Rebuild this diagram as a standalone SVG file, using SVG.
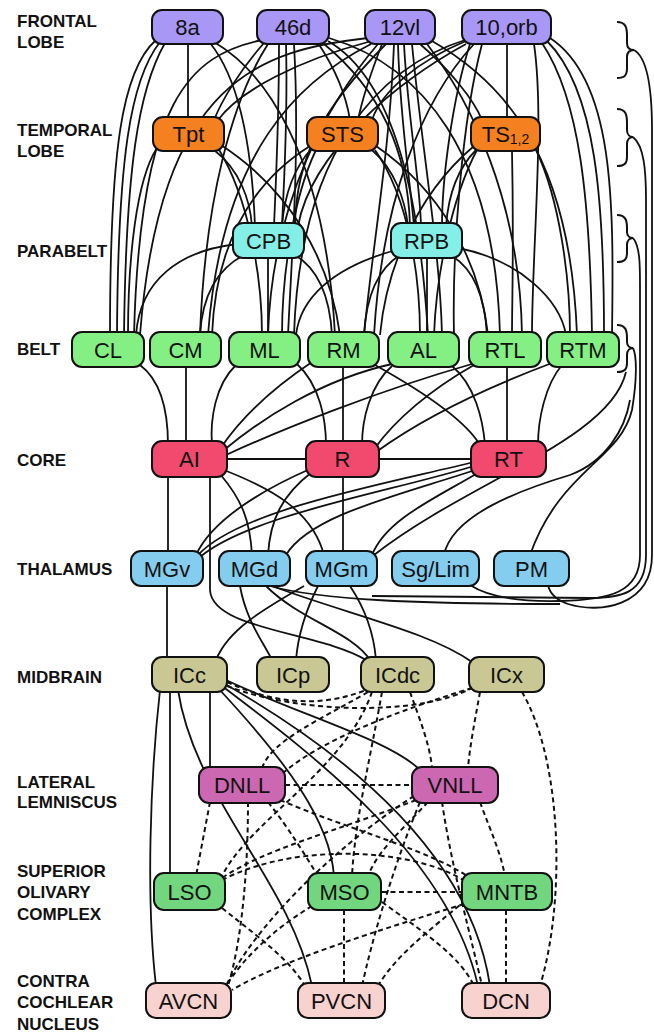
<svg xmlns="http://www.w3.org/2000/svg" width="654" height="1033" viewBox="0 0 654 1033">
<style>
  .c path { fill: none; stroke: #111; stroke-width: 1.8; }
  .c path.d { stroke-dasharray: 5 3.5; stroke-width: 2; }
  .br path { fill: none; stroke: #111; stroke-width: 2; }
  .n rect { stroke: #111; stroke-width: 2; }
  .n text { font-family: "Liberation Sans", Arial, sans-serif; font-size: 22px; text-anchor: middle; fill: #111; }
  .lbl text { font-family: "Liberation Sans", Arial, sans-serif; font-size: 17px; font-weight: bold; fill: #111; }
  .fr rect { fill: #a897f5; }
  .te rect { fill: #f5801f; }
  .pb rect { fill: #84efe6; }
  .be rect { fill: #84f084; }
  .co rect { fill: #f24a6e; }
  .th rect { fill: #84cdee; }
  .mb rect { fill: #c9c894; }
  .ll rect { fill: #cc68b2; }
  .so rect { fill: #72d67e; }
  .cn rect { fill: #f8d2ce; }
</style>

<!-- level labels -->
<g class="lbl">
  <text x="17" y="27">FRONTAL</text><text x="17" y="48">LOBE</text>
  <text x="17" y="136">TEMPORAL</text><text x="17" y="157">LOBE</text>
  <text x="17" y="257">PARABELT</text>
  <text x="17" y="355">BELT</text>
  <text x="17" y="466">CORE</text>
  <text x="17" y="575">THALAMUS</text>
  <text x="17" y="683">MIDBRAIN</text>
  <text x="17" y="788">LATERAL</text><text x="17" y="808">LEMNISCUS</text>
  <text x="17" y="877">SUPERIOR</text><text x="17" y="898">OLIVARY</text><text x="17" y="920">COMPLEX</text>
  <text x="17" y="987">CONTRA</text><text x="17" y="1008">COCHLEAR</text><text x="17" y="1030">NUCLEUS</text>
</g>

<!-- braces on the right -->
<g class="br">
  <path d="M617,22 C626,22 627,28 627,36 L627,43 C627,48 630,50 634,50 C630,50 627,52 627,57 L627,68 C627,75 625,78 617,78"/>
  <path d="M617,109 C626,109 627,115 627,123 L627,130 C627,135 630,137 633,137 C630,137 627,139 627,144 L627,157 C627,163 625,166 617,166"/>
  <path d="M617,215 C626,215 627,221 627,228 L627,232 C627,236 630,238 633,238 C630,238 627,240 627,245 L627,253 C627,259 625,262 617,262"/>
  <path d="M617,325 C626,325 627,331 627,338 L627,342 C627,346 630,348 633,348 C630,348 627,350 627,355 L627,363 C627,369 625,372 617,372"/>
</g>

<!-- connectors -->
<g class="c">
  <!-- frontal 8a -->
  <path d="M188,42 V120"/>
  <path d="M156,40 C122,70 110,150 110,335"/>
  <path d="M160,42 C130,80 118,160 117,335"/>
  <path d="M165,43 C138,90 126,170 124,335"/>
  <path d="M214,42 C262,70 325,150 335,335"/>
  <path d="M210,43 C240,80 252,150 255,226"/>
  <!-- frontal 46d -->
  <path d="M262,40 C190,55 140,100 134,335"/>
  <path d="M264,43 C240,70 222,100 214,120"/>
  <path d="M268,44 C232,100 205,200 200,335"/>
  <path d="M279,44 C279,120 276,180 274,226"/>
  <path d="M286,44 C288,120 284,180 282,226"/>
  <path d="M294,44 C300,150 292,250 288,335"/>
  <path d="M318,43 C336,70 346,95 350,120"/>
  <path d="M324,44 C380,90 408,150 410,226"/>
  <path d="M328,41 C395,80 420,200 428,335"/>
  <path d="M329,38 C420,65 495,150 500,335"/>
  <!-- frontal 12vl -->
  <path d="M368,38 C260,50 160,80 140,335"/>
  <path d="M368,42 C300,60 240,90 218,120"/>
  <path d="M371,44 C300,80 222,150 208,335"/>
  <path d="M378,44 C330,100 272,200 268,335"/>
  <path d="M382,44 C372,70 362,100 358,120"/>
  <path d="M386,44 C320,110 296,160 295,226"/>
  <path d="M398,44 C400,120 410,180 414,226"/>
  <path d="M404,44 C408,120 420,180 421,226"/>
  <path d="M394,44 C390,150 372,250 364,335"/>
  <path d="M412,44 C422,150 440,250 442,335"/>
  <path d="M420,44 C450,70 474,100 482,120"/>
  <path d="M427,44 C470,100 520,200 522,335"/>
  <path d="M432,41 C500,80 570,150 577,335"/>
  <!-- frontal 10,orb -->
  <path d="M466,41 C420,60 382,90 372,120"/>
  <path d="M466,44 C400,80 312,150 298,226"/>
  <path d="M470,44 C452,100 442,180 442,226"/>
  <path d="M468,39 C380,66 300,150 294,335"/>
  <path d="M474,44 C422,100 382,200 374,335"/>
  <path d="M482,44 C462,120 452,250 454,335"/>
  <path d="M507,44 V120"/>
  <path d="M534,44 C545,120 532,250 532,335"/>
  <path d="M542,43 C580,100 590,200 592,335"/>
  <path d="M547,41 C596,90 604,200 604,335"/>
  <path d="M550,38 C614,80 614,200 612,335"/>
  <!-- temporal -->
  <path d="M157,148 C136,180 128,260 128,335"/>
  <path d="M214,150 C240,170 250,200 252,226"/>
  <path d="M218,148 C250,200 262,280 262,335"/>
  <path d="M221,145 C290,190 330,260 340,335"/>
  <path d="M312,148 C292,170 284,200 282,226"/>
  <path d="M310,146 C240,190 215,260 212,335"/>
  <path d="M316,150 C292,200 282,280 282,335"/>
  <path d="M372,150 C395,170 405,200 408,226"/>
  <path d="M375,150 C410,200 420,280 420,335"/>
  <path d="M376,146 C440,190 480,260 488,335"/>
  <path d="M476,150 C456,170 448,200 446,226"/>
  <path d="M478,148 C450,200 436,280 434,335"/>
  <path d="M474,146 C410,200 385,280 380,335"/>
  <path d="M512,151 C514,250 512,300 512,335"/>
  <path d="M536,150 C560,200 570,280 570,335"/>
  <!-- parabelt to belt -->
  <path d="M238,244 C180,250 140,280 136,335"/>
  <path d="M244,255 C215,270 202,300 200,335"/>
  <path d="M268,256 V335"/>
  <path d="M295,255 C320,270 330,300 332,335"/>
  <path d="M396,250 C330,268 300,300 296,335"/>
  <path d="M400,255 C376,270 366,300 364,335"/>
  <path d="M427,256 V335"/>
  <path d="M452,256 C475,270 485,300 487,335"/>
  <path d="M458,248 C520,260 560,300 566,335"/>
  <!-- belt to core -->
  <path d="M140,365 C160,380 168,410 168,445"/>
  <path d="M186,365 V445"/>
  <path d="M236,365 C215,385 210,420 212,445"/>
  <path d="M312,362 C270,390 240,420 222,446"/>
  <path d="M392,364 C320,380 260,420 224,450"/>
  <path d="M472,364 C380,390 280,430 226,455"/>
  <path d="M297,364 C320,385 326,420 326,445"/>
  <path d="M343,365 V445"/>
  <path d="M392,366 C370,385 362,420 362,445"/>
  <path d="M474,365 C430,390 395,420 375,448"/>
  <path d="M552,363 C480,390 420,420 376,452"/>
  <path d="M375,365 C420,390 465,420 480,445"/>
  <path d="M452,366 C475,385 483,420 485,445"/>
  <path d="M507,365 V445"/>
  <path d="M562,365 C545,385 538,420 538,445"/>
  <path d="M225,459 H310"/>
  <path d="M378,459 H475"/>
  <!-- core to thalamus -->
  <path d="M168,476 V555"/>
  <path d="M210,476 V590 C212,630 320,632 366,660"/>
  <path d="M220,474 C242,500 250,520 252,555"/>
  <path d="M224,470 C270,488 312,510 324,555"/>
  <path d="M343,476 V555"/>
  <path d="M312,472 C282,495 270,520 268,555"/>
  <path d="M310,469 C262,490 212,520 196,555"/>
  <path d="M474,462 C380,485 240,510 198,555"/>
  <path d="M474,466 C390,492 250,515 200,557"/>
  <path d="M475,470 C400,495 310,515 286,555"/>
  <path d="M476,474 C432,500 386,520 372,555"/>
  <!-- long pathways along the right edge -->
  <path d="M634,50 C648,58 652,90 652,130 L652,555 C652,606 600,614 568,604 C556,600 550,594 548,585"/>
  <path d="M633,137 C644,146 646,170 646,200 L646,555 C646,594 620,598 590,598 L372,596"/>
  <path d="M633,238 C640,246 640,265 640,285 L640,555 C640,592 610,600 560,601 C520,602 490,598 470,585"/>
  <path d="M633,348 C637,356 637,380 632,410 C620,460 560,470 530,555"/>
  <path d="M444,555 C452,515 520,490 570,475 C605,462 625,430 630,400"/>
  <path d="M626,372 C610,440 470,480 374,555"/>
  <path d="M270,586 C320,600 420,604 560,604"/>
  <!-- thalamus to midbrain -->
  <path d="M167,584 V660"/>
  <path d="M304,586 C262,610 228,630 216,660"/>
  <path d="M240,586 C246,620 262,640 272,660"/>
  <path d="M318,586 C306,610 298,635 296,660"/>
  <path d="M350,586 C366,610 374,635 376,660"/>
  <path d="M266,586 C300,620 352,632 370,660"/>
  <path d="M272,586 C350,615 430,632 472,662"/>
  <!-- inferior colliculus, central nucleus, descending -->
  <path d="M160,690 C150,780 146,900 156,986"/>
  <path d="M170,690 V876"/>
  <path d="M210,690 V770"/>
  <path d="M178,690 C195,800 290,880 312,986"/>
  <path d="M218,688 C285,760 330,820 334,876"/>
  <path d="M222,686 C320,760 450,860 478,986"/>
  <path d="M225,684 C340,750 470,850 490,986"/>
  <path d="M226,680 C300,715 390,740 420,770"/>
  <!-- brainstem (dashed) -->
  <path class="d" d="M227,682 Q300,716 366,690"/>
  <path class="d" d="M227,686 C300,714 420,716 472,688"/>
  <path class="d" d="M368,692 C320,720 272,740 262,768"/>
  <path class="d" d="M472,688 C400,710 320,740 282,774"/>
  <path class="d" d="M410,692 C420,720 430,745 432,768"/>
  <path class="d" d="M480,692 C475,720 470,745 468,768"/>
  <path class="d" d="M522,692 C562,760 566,900 540,986"/>
  <path class="d" d="M372,692 C345,770 250,820 222,876"/>
  <path class="d" d="M382,692 C370,760 355,820 352,876"/>
  <path class="d" d="M285,785 H413"/>
  <path class="d" d="M210,802 L196,876"/>
  <path class="d" d="M248,802 C248,870 242,940 228,986"/>
  <path class="d" d="M268,802 C290,830 305,855 318,876"/>
  <path class="d" d="M280,800 C350,830 430,850 470,878"/>
  <path class="d" d="M416,800 C340,830 262,850 222,878"/>
  <path class="d" d="M428,802 C402,830 378,850 368,876"/>
  <path class="d" d="M480,802 C490,830 500,850 505,876"/>
  <path class="d" d="M442,802 C452,870 472,940 482,986"/>
  <path class="d" d="M420,802 C392,870 372,940 362,986"/>
  <path class="d" d="M414,796 C330,850 252,930 226,986"/>
  <path class="d" d="M222,880 C300,840 420,850 466,882"/>
  <path class="d" d="M382,892 H464"/>
  <path class="d" d="M222,908 C262,940 290,960 305,986"/>
  <path class="d" d="M344,910 V986"/>
  <path class="d" d="M312,906 C272,930 242,960 226,986"/>
  <path class="d" d="M464,904 C380,930 282,960 232,990"/>
  <path class="d" d="M466,900 C430,930 396,955 378,986"/>
  <path class="d" d="M506,910 V986"/>
  <path class="d" d="M382,902 C420,930 460,955 474,986"/>
</g>

<!-- frontal lobe -->
<g id="n-8a" class="n fr"><rect x="152" y="10" width="71" height="34" rx="10"/><text x="187.5" y="35">8a</text></g>
<g id="n-46d" class="n fr"><rect x="257" y="10" width="72" height="34" rx="10"/><text x="293" y="35">46d</text></g>
<g id="n-12vl" class="n fr"><rect x="365" y="10" width="70" height="34" rx="10"/><text x="400" y="35">12vl</text></g>
<g id="n-10orb" class="n fr"><rect x="462" y="10" width="89" height="34" rx="10"/><text x="506.5" y="35">10,orb</text></g>
<!-- temporal lobe -->
<g id="n-Tpt" class="n te"><rect x="153" y="117" width="71" height="34" rx="10"/><text x="188.5" y="142">Tpt</text></g>
<g id="n-STS" class="n te"><rect x="307" y="117" width="71" height="34" rx="10"/><text x="342.5" y="142">STS</text></g>
<g id="n-TS" class="n te"><rect x="471" y="117" width="69" height="34" rx="10"/><text x="505.5" y="142">TS<tspan font-size="14" dy="2">1,2</tspan></text></g>
<!-- parabelt -->
<g id="n-CPB" class="n pb"><rect x="233" y="223" width="71" height="35" rx="10"/><text x="268.5" y="248.5">CPB</text></g>
<g id="n-RPB" class="n pb"><rect x="391" y="223" width="71" height="35" rx="10"/><text x="426.5" y="248.5">RPB</text></g>
<!-- belt -->
<g id="n-CL" class="n be"><rect x="72" y="332" width="72" height="35" rx="10"/><text x="108" y="357.5">CL</text></g>
<g id="n-CM" class="n be"><rect x="150" y="332" width="71" height="35" rx="10"/><text x="185.5" y="357.5">CM</text></g>
<g id="n-ML" class="n be"><rect x="229" y="332" width="71" height="35" rx="10"/><text x="264.5" y="357.5">ML</text></g>
<g id="n-RM" class="n be"><rect x="308" y="332" width="71" height="35" rx="10"/><text x="343.5" y="357.5">RM</text></g>
<g id="n-AL" class="n be"><rect x="388" y="332" width="71" height="35" rx="10"/><text x="423.5" y="357.5">AL</text></g>
<g id="n-RTL" class="n be"><rect x="469" y="332" width="72" height="35" rx="10"/><text x="505" y="357.5">RTL</text></g>
<g id="n-RTM" class="n be"><rect x="547" y="332" width="72" height="35" rx="10"/><text x="583" y="357.5">RTM</text></g>
<!-- core -->
<g id="n-AI" class="n co"><rect x="152" y="441" width="75" height="36" rx="10"/><text x="189.5" y="467">AI</text></g>
<g id="n-R" class="n co"><rect x="306" y="441" width="73" height="36" rx="10"/><text x="342.5" y="467">R</text></g>
<g id="n-RT" class="n co"><rect x="471" y="441" width="75" height="36" rx="10"/><text x="508.5" y="467">RT</text></g>
<!-- thalamus -->
<g id="n-MGv" class="n th"><rect x="131" y="551" width="72" height="35" rx="10"/><text x="167" y="576.5">MGv</text></g>
<g id="n-MGd" class="n th"><rect x="219" y="551" width="71" height="35" rx="10"/><text x="254.5" y="576.5">MGd</text></g>
<g id="n-MGm" class="n th"><rect x="306" y="551" width="71" height="35" rx="10"/><text x="341.5" y="576.5">MGm</text></g>
<g id="n-SgLim" class="n th"><rect x="392" y="551" width="87" height="35" rx="10"/><text x="435.5" y="576.5">Sg/Lim</text></g>
<g id="n-PM" class="n th"><rect x="494" y="551" width="75" height="35" rx="10"/><text x="531.5" y="576.5">PM</text></g>
<!-- midbrain -->
<g id="n-ICc" class="n mb"><rect x="152" y="657" width="75" height="35" rx="10"/><text x="189.5" y="682.5">ICc</text></g>
<g id="n-ICp" class="n mb"><rect x="257" y="657" width="72" height="35" rx="10"/><text x="293" y="682.5">ICp</text></g>
<g id="n-ICdc" class="n mb"><rect x="361" y="657" width="73" height="35" rx="10"/><text x="397.5" y="682.5">ICdc</text></g>
<g id="n-ICx" class="n mb"><rect x="469" y="657" width="75" height="35" rx="10"/><text x="506.5" y="682.5">ICx</text></g>
<!-- lateral lemniscus -->
<g id="n-DNLL" class="n ll"><rect x="199" y="767" width="86" height="36" rx="10"/><text x="242" y="793">DNLL</text></g>
<g id="n-VNLL" class="n ll"><rect x="412" y="767" width="86" height="36" rx="10"/><text x="455" y="793">VNLL</text></g>
<!-- superior olivary complex -->
<g id="n-LSO" class="n so"><rect x="154" y="873" width="71" height="37" rx="10"/><text x="189.5" y="899.5">LSO</text></g>
<g id="n-MSO" class="n so"><rect x="308" y="873" width="73" height="37" rx="10"/><text x="344.5" y="899.5">MSO</text></g>
<g id="n-MNTB" class="n so"><rect x="462" y="873" width="90" height="37" rx="10"/><text x="507" y="899.5">MNTB</text></g>
<!-- contralateral cochlear nucleus -->
<g id="n-AVCN" class="n cn"><rect x="146" y="983" width="85" height="35" rx="10"/><text x="188.5" y="1008.5">AVCN</text></g>
<g id="n-PVCN" class="n cn"><rect x="298" y="983" width="87" height="35" rx="10"/><text x="341.5" y="1008.5">PVCN</text></g>
<g id="n-DCN" class="n cn"><rect x="462" y="983" width="88" height="35" rx="10"/><text x="506" y="1008.5">DCN</text></g>
</svg>
